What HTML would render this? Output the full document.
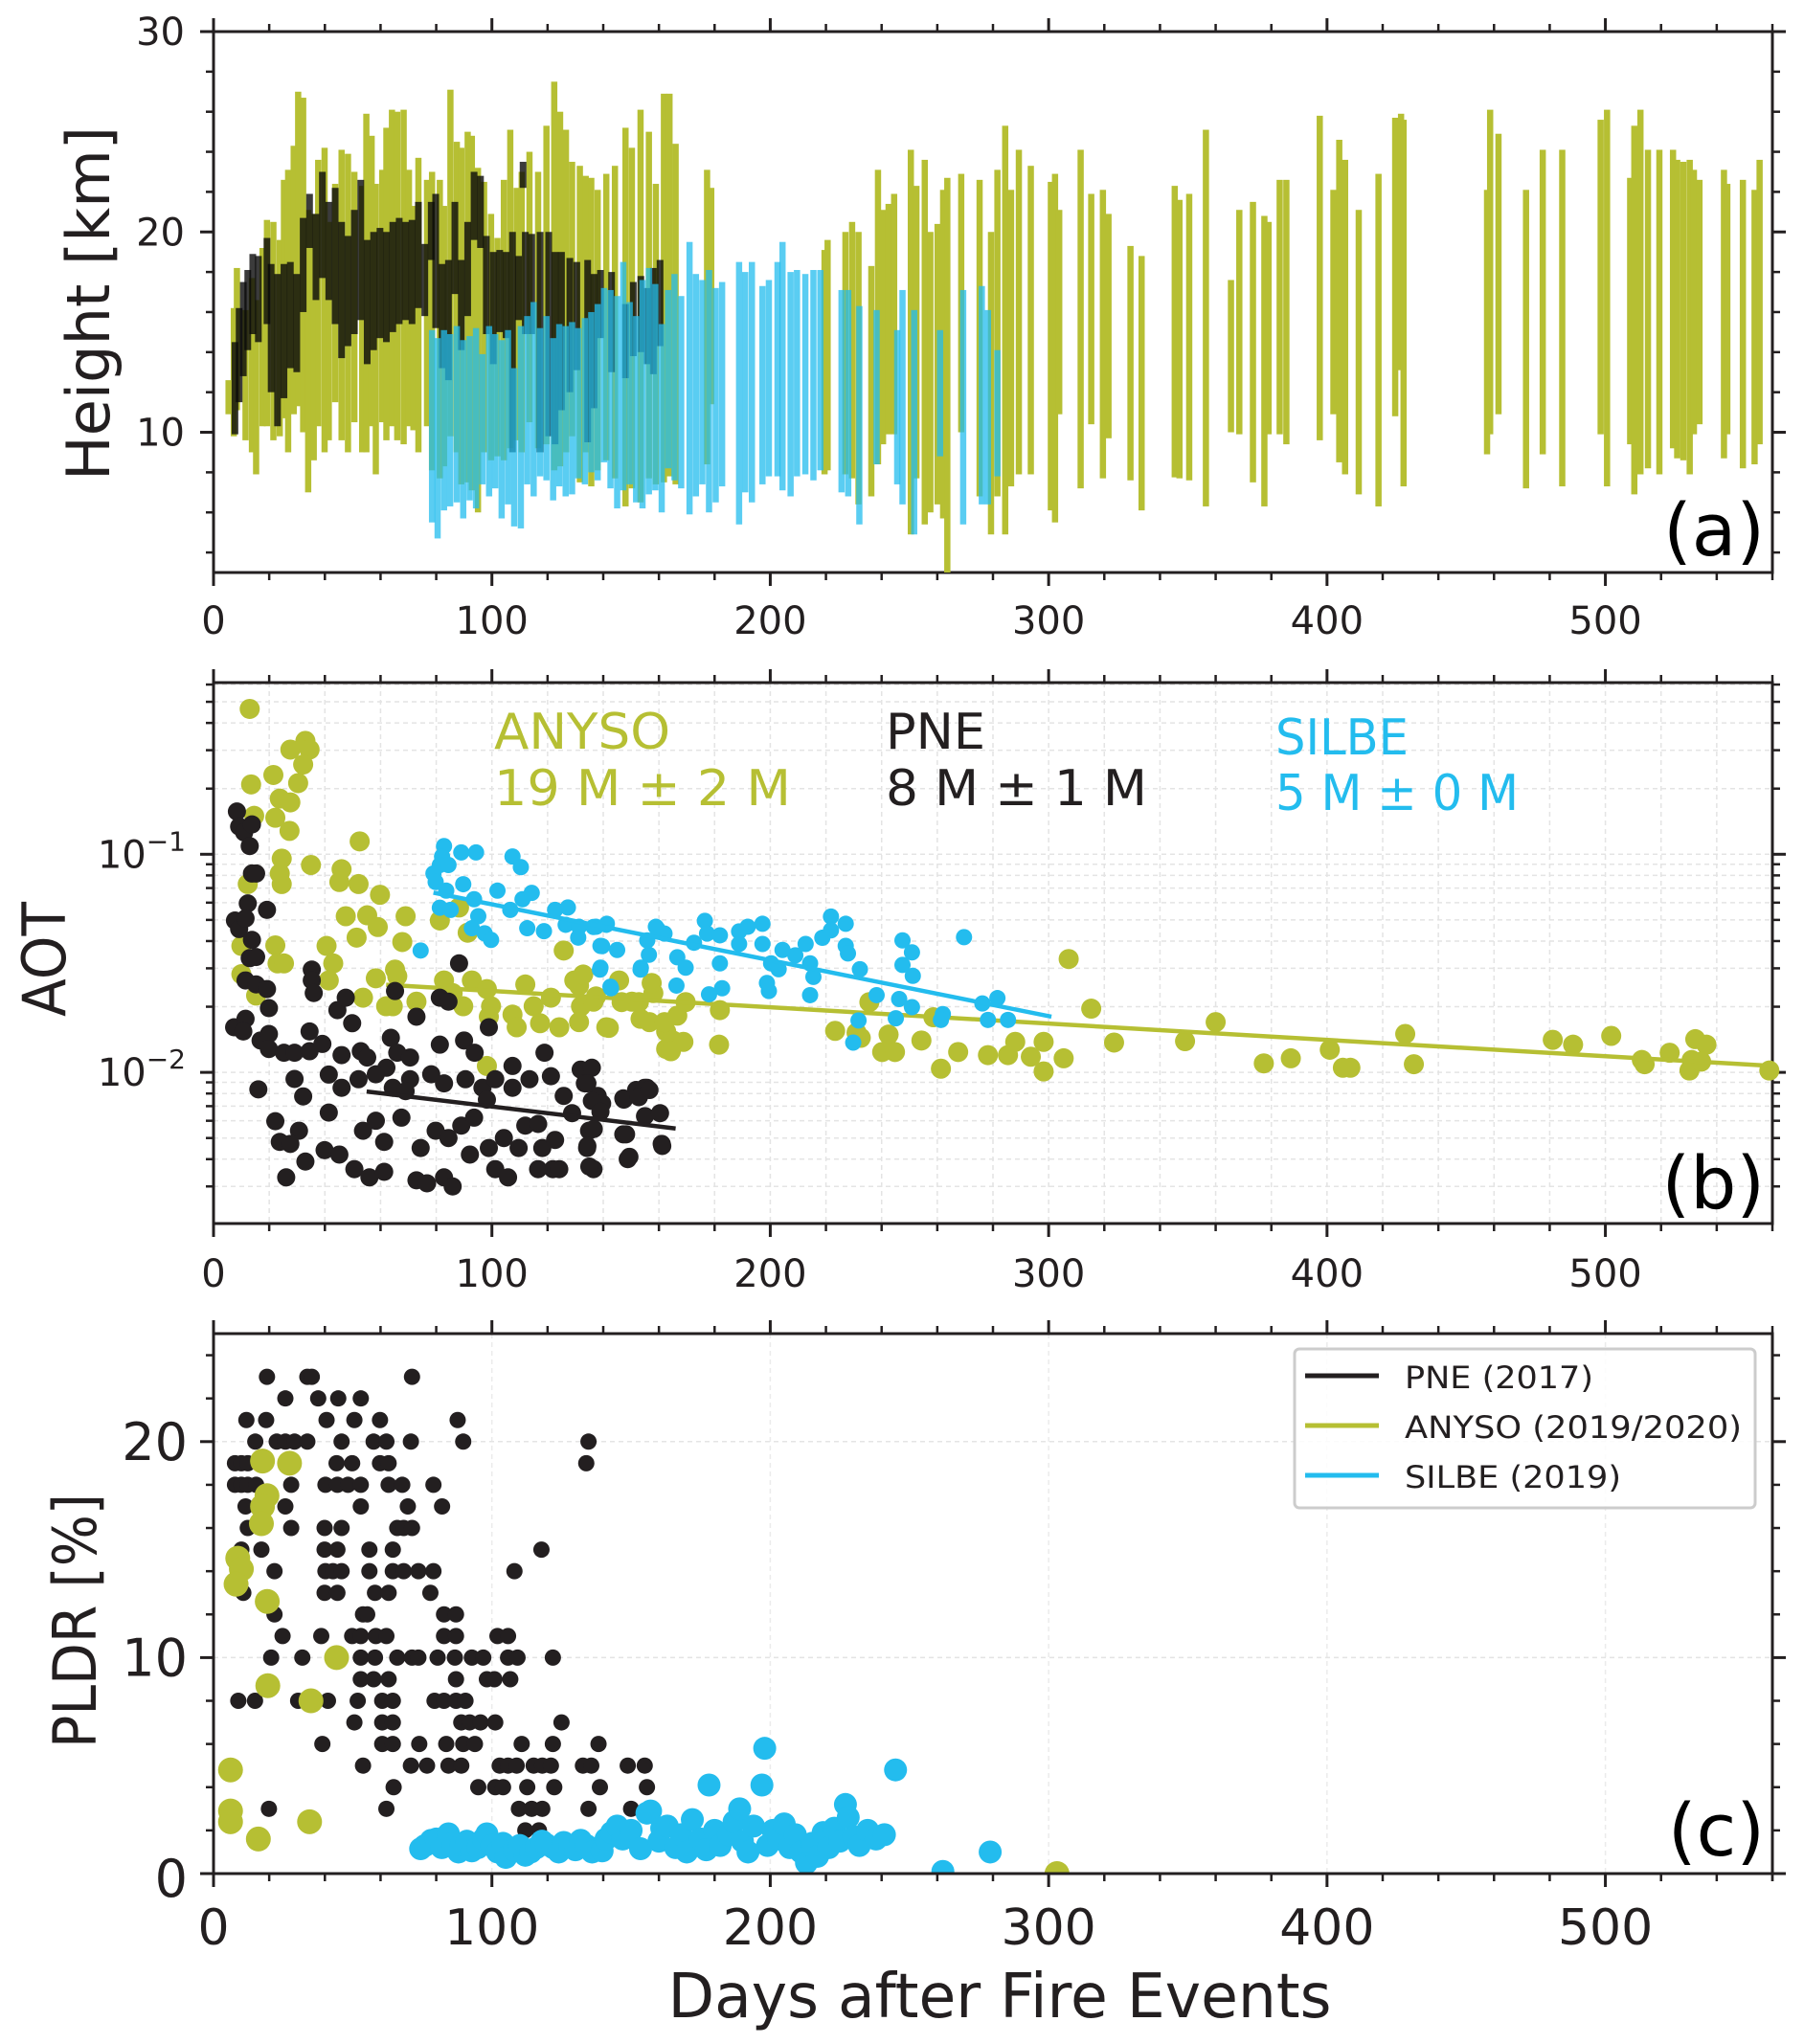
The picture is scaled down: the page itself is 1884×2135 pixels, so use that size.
<!DOCTYPE html>
<html><head><meta charset="utf-8"><style>
html,body{margin:0;padding:0;background:#fff;}
svg{display:block;font-family:"DejaVu Sans","Liberation Sans",sans-serif;}
</style></head><body>
<svg id="fig" width="1884" height="2135" viewBox="0 0 1884 2135" xmlns="http://www.w3.org/2000/svg"></svg>
<script>
// ---------- DATA ----------
// Panel (a): [day, lowKm, highKm]
const anysoLayers = [[5.4,10.9,12.6],[7.3,9.8,16.2],[8.4,11.1,18.2],[11.5,9.6,16.1],[13.8,9,17.7],[15.3,7.9,16.6],[17.6,10.3,19.2],[19.2,10.3,20.6],[21.5,9.6,20.5],[23.8,9.8,19.6],[25.3,10.7,22.6],[26.8,9,23.1],[28.8,10.9,24.3],[30.4,11.3,27],[32.2,10,26.7],[34,7,21.1],[36,8.6,20.9],[37.6,10.3,23.6],[39.9,9,24.2],[41.4,9.6,20.5],[43.7,11.5,22.4],[46,9.6,24.1],[48.3,9,23.9],[50.6,10.5,23],[53.4,9,22.3],[54.9,9,25.9],[56.8,10.3,24.8],[58.3,7.9,22.4],[60.6,10.5,23.1],[62.1,9.6,25.2],[64.1,10.3,26.1],[66,9.6,26],[68.3,9.4,26.1],[70.2,10.3,23.1],[71.8,10.1,21.3],[73.6,9,23.7],[76.7,10.3,22.6],[78.5,8.1,23],[81.3,7.7,22.6],[82.8,8.3,21.3],[85.1,9.8,27.1],[87.4,9,24.5],[89,7.4,24.2],[91.3,7.5,25],[92.8,7.1,24.8],[95,6,23.2],[97.2,9,22.5],[99.7,8.6,20.9],[102,8.8,19.7],[104.3,8.6,22.6],[106.6,9.2,25.1],[108.9,9.6,22.2],[110.7,9,23],[113.5,10.5,24],[116.6,9.2,23],[119.6,9.4,25.3],[122.4,8.1,27.5],[124.5,8.3,26],[126.6,9,25.1],[128.8,9.8,23.5],[131.6,7.5,23.3],[133.7,9,22.8],[135.7,7.3,22.7],[138,8.1,22.1],[141.1,8.6,22.9],[144.2,7.7,23.3],[148,6.3,25.2],[150.3,7.2,24.2],[153.4,6.5,26.1],[156.4,7.7,25],[158.9,7.4,22.4],[161.8,7.5,26.9],[163.8,7.8,26.9],[166,7.4,24.4],[177.3,8.4,23.1],[178.8,11.4,22.2],[219.5,7.9,19.1],[220.6,8.1,19.6],[227,7.9,20],[229.4,7.7,20.5],[231.7,6.4,20],[236.3,6.8,18.3],[238.7,8.4,23.1],[240.5,9.4,21.1],[242.5,9.9,21.4],[244.5,9.9,21.9],[250.5,4.9,24.1],[252.5,7.7,22.3],[255.5,5.4,23.6],[257.5,6,20],[260.1,6.4,20.4],[262.1,5.7,22.1],[263.6,3,22.7],[268.6,10,22.9],[275.2,6.8,22.6],[279.3,4.9,20],[281.6,6.8,23.1],[284.4,4.9,25.3],[286.5,7.3,22.1],[289.3,7.9,24.1],[293.6,7.9,23.3],[300.8,6.1,22.5],[302.3,5.5,22.9],[303.8,10.9,21.1],[311.5,7.2,24.1],[315.3,10.4,21.9],[319.5,7.7,22.1],[321.5,9.7,20.9],[329.4,7.6,19.3],[333.4,6.1,18.8],[345.3,7.75,22.3],[347,7.7,21.6],[350.5,7.6,21.9],[356.5,6.3,25.1],[365.5,10,17.6],[368.5,9.9,21.1],[373.4,7.5,21.5],[377.5,6.3,20.8],[379,9.9,20.5],[383,9.9,22.6],[385.4,9.4,22.6],[397.4,9.6,25.8],[402.3,10.9,22.1],[404.4,8.5,24.6],[406.5,7.9,23.6],[411.4,6.9,21.1],[418.5,6.3,22.9],[424.5,10.8,25.7],[426.6,13.1,25.9],[427.5,7.3,25.6],[457.5,8.9,22.1],[458.6,9.9,26.1],[461.6,10.9,24.9],[471.5,7.2,22.1],[477.5,8.9,24.1],[484.5,7.3,24.1],[498.3,9.9,25.6],[500.6,7.3,26.1],[508.9,9.4,22.7],[510.4,6.9,25.3],[512.6,7.9,26.1],[515.3,8.2,24.1],[519.4,7.9,24.1],[524.3,9.2,24.1],[525.8,8.7,23.6],[528,8.6,23.5],[530.3,7.9,23.6],[531.8,9.9,23.1],[533.8,10.4,22.6],[542.6,8.7,23.1],[543.8,9.9,22.4],[549.4,8.2,22.6],[553.6,8.4,22.1],[555.4,9.4,23.6]];
const pneLayers = [[7.7,9.9,14.5],[9.2,11.5,16.2],[10.7,12.8,17.5],[12.3,14.1,18.1],[14.1,14.9,18.9],[16.1,14.5,18.8],[19.2,15.4,19.7],[20.7,12,18.4],[23,10.3,17.9],[25.3,11.7,18.4],[27.6,13.2,18.5],[29.9,13,17.9],[32.2,16,20.7],[34.5,19.2,21.9],[36.8,16.6,20.9],[39.1,17.7,23],[41.4,16.6,21.5],[43.7,15.4,22.2],[46,13.7,20.5],[48.3,14.3,19.8],[50.6,14.9,21.1],[52.9,15.6,22.6],[55.2,13.4,19.6],[57.5,14.1,20],[59.8,14.7,20.2],[62.1,14.5,20],[64.4,15,20.5],[66.7,15.4,20.7],[69,15.6,20.5],[71.3,15.4,20.6],[73.6,16.2,21.5],[75.9,15.8,19.4],[78.2,18.6,21.5],[79.8,15.2,21.9],[82.1,13.2,18.4],[84.4,12.6,18.6],[86.7,16.9,21.5],[89,14.1,18.6],[91.3,15.8,20.5],[93.6,19.6,23],[95.9,19.2,22.8],[98,14.9,19.8],[100.5,13.4,19],[102.8,15,19.1],[105.1,14.7,19],[107.4,9,20],[109.6,15.6,18.8],[111.2,22.2,23.5],[112,14.9,20],[114.3,14.9,19.9],[117.3,9,20],[120.4,9.8,20],[122.7,9.4,19],[125,11.1,19],[128,12,18.7],[130.5,13.1,18.5],[134.4,9.5,18.6],[136.7,11.2,17.9],[139,14.7,18.1],[143,13,18],[148,12.7,16.4],[150.8,13.8,17.5],[153.5,14,17.8],[155.8,13.4,17.2],[158,12.9,18.2],[160.4,14.3,18.6]];
const silbeLayers = [[78.5,5.5,15.1],[80.5,4.7,14.7],[82.8,6.1,15.1],[85,6.3,14.9],[87.4,6.5,15.3],[89.7,5.7,14.6],[92,6.6,14.8],[94.3,6.2,15.2],[96.6,7.4,13.9],[99,6.8,15.3],[101.2,7.2,14.9],[103.5,5.7,14.6],[105.8,6.4,15.1],[108,5.3,13.2],[110.4,5.2,15.3],[112.7,7.4,15.8],[115,6.8,16.5],[117.3,7.8,15.2],[119.6,7.6,15.8],[122,6.6,14.7],[124.2,7.3,15.4],[126.5,6.8,15.3],[128.8,6.9,15.5],[131,7.7,15.2],[133.4,7.4,15.7],[135.7,8,16],[138,7.6,16.4],[140.3,8.5,17.2],[142.6,7.2,17.1],[145,6.2,16.8],[147.2,7.1,18.5],[149.5,7.4,16.5],[151.8,6.5,15.8],[154.1,6.2,17.6],[156.4,6.9,18.2],[158.7,7.1,17.4],[161,6,15.4],[163.3,8.2,17.1],[165.6,7.6,17.9],[168,7.2,16.8],[171,5.9,19.5],[173.3,6.8,17.9],[175.6,7.4,17.6],[178,6,18.1],[180.4,6.5,17.2],[182.7,7.3,17.5],[188.8,5.4,18.5],[191,7,18],[193.4,6.5,18.5],[197.2,7.4,17.3],[199.5,7.8,17.6],[202.6,7.8,18.5],[204.4,7.1,19.5],[207.3,6.8,18],[209.6,7.8,18.1],[212.6,7.9,17.9],[215.5,7.6,18.1],[218,8.1,18.1],[225.6,7,17.1],[228,6.8,17.1],[232,5.4,16.3],[238.2,8.4,16.1],[245.6,7.4,15.1],[247.5,6.4,17.1],[251.7,4.9,16.1],[261,8.8,15.1],[269.3,5.4,17.1],[276,6.4,17.3],[278.2,6.4,16.1],[281.6,7.8,14.1]];

// Panel (b): [day, AOT]
const anysoAOT = [[13,0.464],[13.5,0.209],[21.5,0.231],[27.6,0.302],[33,0.331],[34.5,0.302],[32.2,0.258],[30.4,0.212],[23.8,0.18],[27.6,0.173],[22.2,0.147],[27.3,0.128],[14.6,0.15],[24.5,0.0955],[23.8,0.0816],[24.5,0.073],[12.3,0.073],[35,0.0893],[46,0.0854],[45.2,0.0746],[52.5,0.1146],[52.1,0.073],[59.8,0.0652],[47.5,0.052],[55.2,0.0525],[59,0.0464],[51.4,0.0415],[69,0.052],[67.8,0.0396],[81.3,0.0497],[88.2,0.057],[91.3,0.0437],[125.8,0.0362],[22.2,0.0382],[10,0.038],[23,0.0316],[25.3,0.0316],[10,0.0282],[15.3,0.0225],[40.6,0.038],[43,0.0316],[41.4,0.0264],[58.3,0.027],[65.2,0.0296],[66,0.0276],[53.7,0.022],[62,0.0201],[64.4,0.0201],[72.9,0.0211],[82.8,0.0264],[85.9,0.0231],[89.7,0.0201],[92.8,0.0264],[98.2,0.0241],[99.7,0.0201],[98.9,0.018],[107.4,0.0184],[108.9,0.0161],[112,0.0253],[115,0.0201],[117.3,0.0168],[121.2,0.022],[124.2,0.0161],[129.6,0.0264],[132,0.0201],[136.5,0.0211],[141.1,0.0161],[145.7,0.0264],[150.3,0.0211],[153.4,0.0176],[158,0.0231],[162.6,0.0154],[162.6,0.0128],[98.2,0.0107],[131.3,0.025],[132.8,0.0281],[131.3,0.017],[142,0.016],[137.4,0.0223],[146.6,0.021],[152.8,0.021],[157.4,0.0257],[156.6,0.017],[162,0.017],[166.6,0.0182],[169.6,0.021],[165,0.014],[168.8,0.0138],[164.3,0.0125],[181.9,0.0193],[181.6,0.0134],[235.6,0.021],[223.3,0.0155],[231,0.0152],[232.5,0.0144],[242.5,0.0149],[240.2,0.0124],[244.8,0.0124],[254.3,0.014],[258.6,0.0179],[261.3,0.0104],[267.5,0.0124],[278.2,0.012],[285.4,0.012],[288,0.0138],[293.6,0.0118],[298.2,0.0138],[298.2,0.0101],[305.4,0.0116],[307.2,0.0331],[315.3,0.0196],[323.5,0.0137],[349,0.0139],[360,0.017],[377.3,0.011],[387,0.0116],[401,0.0127],[405.7,0.0105],[408.4,0.0105],[428.1,0.015],[431.2,0.0109],[481.1,0.0141],[488.4,0.0134],[502.1,0.0147],[513.1,0.0114],[514.1,0.0109],[523.1,0.0123],[532.3,0.0142],[536.3,0.0134],[531,0.0114],[530.2,0.0102],[534.4,0.0112],[558.9,0.0102]];
const silbeAOT = [[82.8,0.109],[82.1,0.0977],[81.3,0.0893],[84.4,0.0893],[79,0.0816],[79.8,0.0746],[83.6,0.0681],[89,0.102],[94.3,0.102],[89.7,0.0729],[93.6,0.0622],[81.3,0.0569],[85.2,0.0556],[95.1,0.052],[92.8,0.0458],[97.4,0.0434],[99.7,0.0405],[74.4,0.0362],[107.4,0.0977],[110.4,0.0873],[102,0.0681],[106.6,0.0556],[111,0.0622],[114.3,0.0665],[112.7,0.0458],[118.7,0.0444],[122.7,0.0556],[127.3,0.057],[126.5,0.0475],[131,0.0415],[136.5,0.0464],[141.1,0.0475],[139.6,0.0379],[138.8,0.0296],[142.6,0.0247],[153.4,0.0296],[156.4,0.0346],[159.5,0.0454],[131.3,0.0465],[137.4,0.0465],[141.3,0.048],[139,0.038],[145,0.0364],[139,0.0302],[142.8,0.0243],[153.5,0.0302],[158.9,0.0465],[155.8,0.0403],[162,0.0433],[166.6,0.0337],[169.6,0.0302],[166.3,0.025],[172.6,0.0393],[176.5,0.0495],[177.3,0.0433],[181.9,0.0425],[181.9,0.0316],[182.7,0.0243],[178,0.0228],[188.8,0.0443],[191.9,0.0465],[197.2,0.048],[188.8,0.0388],[197.2,0.0388],[200.3,0.0316],[203,0.0297],[198.8,0.0257],[199.5,0.0236],[204.4,0.0364],[209,0.0344],[212.7,0.0388],[214.3,0.0316],[215.5,0.0274],[214.3,0.0226],[218.7,0.0414],[221.8,0.0518],[221.8,0.0448],[227.1,0.048],[227.1,0.038],[227.9,0.0351],[232.2,0.0297],[247.5,0.0403],[250.9,0.0355],[247.5,0.0311],[251.2,0.0277],[238.2,0.0226],[246.3,0.0217],[250.9,0.0199],[245.1,0.0177],[231.7,0.0173],[229.8,0.0137],[262,0.0185],[261.3,0.0174],[269.6,0.0417],[276.2,0.0207],[281.6,0.0219],[278.2,0.0174],[285.4,0.0174]];
const pneAOT = [[8.4,0.157],[9.2,0.134],[11,0.126],[13.8,0.137],[13,0.109],[13.8,0.0816],[15.3,0.0816],[12.3,0.0595],[19.2,0.0556],[7.7,0.0497],[9.2,0.0454],[11.5,0.0508],[13.8,0.0405],[13,0.0334],[15.3,0.0338],[11.5,0.0264],[15.3,0.0253],[19.2,0.0241],[19.9,0.0197],[7.4,0.0161],[11.5,0.0176],[10.7,0.0154],[16.9,0.014],[19.9,0.015],[19.9,0.0128],[25.3,0.0123],[29.1,0.0123],[29.1,0.00933],[16.1,0.00836],[35.3,0.0296],[35.3,0.0264],[36,0.0231],[34.5,0.0154],[34.5,0.0125],[39.1,0.0135],[44.5,0.0193],[47.5,0.022],[49.8,0.0168],[46,0.012],[52.9,0.0125],[55.2,0.0117],[65.2,0.0236],[63.7,0.0144],[62.1,0.0105],[66,0.0123],[70.6,0.0117],[72.9,0.018],[81.3,0.022],[84.4,0.0211],[88.2,0.0316],[98.9,0.0161],[81.3,0.0134],[90,0.014],[93.8,0.0123],[107.4,0.0107],[118.9,0.0123],[131.9,0.0103],[41.4,0.00977],[46,0.0085],[52.1,0.0093],[58.3,0.0098],[64.4,0.0085],[70.6,0.0093],[78.2,0.0098],[82.8,0.0089],[90.5,0.0093],[96.6,0.0085],[101.2,0.0093],[107.4,0.0085],[113.5,0.0093],[121.2,0.0096],[125.8,0.0078],[133.4,0.0089],[138,0.0078],[147.2,0.0076],[151.8,0.0083],[155.7,0.0085],[41.4,0.00654],[22.2,0.00597],[32.2,0.00776],[30.7,0.0054],[23.8,0.0048],[27.6,0.0047],[33,0.0039],[26.1,0.0033],[39.9,0.0044],[45.2,0.0042],[50.6,0.0036],[56,0.0033],[61.3,0.0035],[53.7,0.0054],[58.3,0.006],[61.3,0.0048],[67.5,0.0062],[69,0.0082],[74.4,0.0045],[72.9,0.0032],[76.7,0.0031],[82.8,0.0033],[85.9,0.003],[79.8,0.0054],[84.4,0.005],[89,0.0057],[93.6,0.0062],[98.2,0.0075],[92.1,0.0042],[98.9,0.0045],[101.2,0.0036],[105.8,0.0033],[104.3,0.005],[109.6,0.0045],[112,0.0057],[116.6,0.0058],[118.1,0.0045],[122.7,0.0049],[121.9,0.0036],[124.2,0.0036],[116.6,0.0036],[128.8,0.0065],[134.9,0.0054],[134.2,0.0045],[136.5,0.0036],[139.6,0.0072],[147.2,0.0052],[148.8,0.004],[154.9,0.0085],[161,0.0047],[135.9,0.0105],[134.3,0.0089],[135.9,0.0074],[139,0.0066],[136.6,0.0055],[134.3,0.0046],[135,0.0037],[147.4,0.0075],[152.8,0.0077],[156.6,0.0083],[155,0.0063],[160.4,0.0065],[148.2,0.0052],[161.2,0.0046],[149.4,0.0041]];
// fitted decay lines: [startDay, startAOT, endDay, endAOT]
const anysoFit = [62, 0.0252, 560, 0.0107];
const silbeFit = [79, 0.0667, 301, 0.018];
const pneFit = [55, 0.00817, 166, 0.00553];

// Panel (c): [day, PLDR %]
const pnePLDR = [[19.2,23],[33.7,23],[35.3,23],[71.3,23],[25.8,22],[37.6,22],[44.8,22],[52.9,22],[11.8,21],[18.9,21],[40.6,21],[50.6,21],[59.8,21],[87.7,21],[15,20],[22.7,20],[25.8,20],[29.1,20],[33.7,20],[46,20],[57.5,20],[62.1,20],[70.9,20],[89.7,20],[134.7,20],[7.7,19],[10,19],[12.3,19],[44.2,19],[49.8,19],[59.8,19],[62.9,19],[133.9,19],[7.7,18],[10,18],[12.3,18],[15.3,18],[27.9,18],[40.2,18],[44.5,18],[48.3,18],[52.9,18],[62.9,18],[67.8,18],[79,18],[11.5,17],[25.8,17],[52.9,17],[69.8,17],[82.1,17],[12.3,16],[27.9,16],[39.9,16],[46,16],[66,16],[68.3,16],[71.3,16],[10,15],[17.2,15],[39.9,15],[44.5,15],[56,15],[64.4,15],[117.8,15],[21.9,14],[40.2,14],[42.9,14],[46,14],[56,14],[64.4,14],[68.3,14],[73.6,14],[79,14],[108.1,14],[10.7,13],[39.9,13],[44.5,13],[58,13],[62.9,13],[77.9,13],[21.9,12],[53.7,12],[55.2,12],[82.8,12],[87.1,12],[24.8,11],[38.7,11],[49.8,11],[52.9,11],[58.3,11],[62.1,11],[82.8,11],[87.1,11],[102,11],[105.8,11],[20.7,10],[31.9,10],[52.9,10],[58,10],[66,10],[71.3,10],[73.6,10],[80.5,10],[86.7,10],[92.8,10],[96.9,10],[105.8,10],[109.2,10],[121.9,10],[52.9,9],[57.5,9],[62.9,9],[87.1,9],[98.2,9],[100.9,9],[106.6,9],[8.9,8],[14.9,8],[30.4,8],[41.1,8],[51.8,8],[60.6,8],[64.4,8],[79.4,8],[82.8,8],[87.1,8],[90.5,8],[50.6,7],[60.6,7],[64.4,7],[89,7],[92,7],[95.9,7],[101.2,7],[125,7],[39.1,6],[60.6,6],[64.4,6],[73.9,6],[83.6,6],[89.7,6],[93.9,6],[110.7,6],[121.9,6],[138.3,6],[53.7,5],[70.9,5],[76.7,5],[84.4,5],[89,5],[102.8,5],[105.8,5],[108.9,5],[115,5],[118.1,5],[121.2,5],[132.7,5],[135.7,5],[148.8,5],[154.9,5],[64.7,4],[95.1,4],[101.2,4],[104,4],[112.7,4],[122.4,4],[138.8,4],[155.7,4],[19.9,3],[62.1,3],[109.7,3],[114.3,3],[118.1,3],[134.7,3],[150,3],[112,2],[116.9,2]];
const anysoPLDR = [[17.6,19.1],[27.3,19],[19.2,17.5],[17.6,17],[17.2,16.2],[8.7,14.6],[10,14.1],[8.1,13.4],[19.3,12.6],[44.2,10],[19.5,8.7],[35,8],[6.1,4.8],[6.1,2.9],[6.1,2.4],[34.5,2.4],[16.1,1.6],[303,0]];
const silbePLDR = [[74.4,1.15],[76,1.3],[78.2,1.54],[80,1.6],[82,1.2],[84.4,1.84],[86,1.4],[88,1.0],[89,1.34],[91,1.5],[92.8,1.05],[95,1.2],[97,1.6],[98.2,1.84],[100,1.3],[102,1.0],[104,1.4],[105,0.75],[108,1.1],[110,1.3],[112,0.85],[114,1.0],[116,1.2],[118,1.5],[119.6,1.34],[122,1.2],[124,1.0],[125.8,1.44],[128,1.3],[130,1.1],[131.9,1.54],[134,1.3],[136,1.0],[139.6,1.05],[141,1.6],[143,1.9],[145,2.2],[147,1.6],[150,2.0],[153.4,1.15],[155.7,2.8],[157,2.9],[160,1.5],[161,2.1],[163,2.2],[166,1.2],[168,1.8],[170,1.0],[172,2.5],[175,1.6],[177,1.1],[178,4.1],[180,2.0],[182,1.3],[185,1.8],[187,2.4],[189,3.0],[190,1.5],[192,1.0],[194,2.2],[197,4.1],[198,5.8],[199,1.3],[201,2.0],[203,1.6],[205,2.3],[207,1.2],[209,1.8],[211,1.0],[213,0.5],[215,1.4],[217,0.8],[219,1.9],[221,1.2],[223,2.1],[225,1.5],[227,3.2],[228,2.6],[230,1.7],[232,1.3],[235,2.0],[238,1.6],[241,1.8],[245,4.8],[262,0.1],[279,1.0]];

const xTickLabels = ["0","100","200","300","400","500"];
const xTickValues = [0,100,200,300,400,500];
const aTickValues = [10,20,30];
const cTickValues = [0,10,20];
const bTickExps = [-2,-1];

// ---------- LAYOUT ----------
const NS = "http://www.w3.org/2000/svg";
const svg = document.getElementById("fig");
const X0 = 223, X1 = 1851, XMAX = 560;
const C_OLIVE = "#b6bf33", C_BLUE = "#23bcee", C_BLACK = "#231f20";
const P = {
  a:{top:33,bot:598,min:3,max:30,log:false},
  b:{top:713,bot:1278,min:-2.693,max:-0.213,log:true},
  c:{top:1393,bot:1957,min:0,max:25,log:false}
};
function xs(d){ return X0 + (d/XMAX)*(X1-X0); }
function ys(p,v){ const t = p.log ? Math.log10(v) : v; return p.bot - (t-p.min)/(p.max-p.min)*(p.bot-p.top); }
function el(tag, attrs, parent){ const e = document.createElementNS(NS, tag); for (const k in attrs) e.setAttribute(k, attrs[k]); (parent||svg).appendChild(e); return e; }
function grp(name){ const g = el("g", {});   return g; }

function gridLines(p, name, yvals){
  const g = grp(name);
  const xv = []; for (let d=20; d<XMAX; d+=20) xv.push(d);
  if (p===P.b){
    xv.forEach(d=>el("line",{x1:xs(d),x2:xs(d),y1:p.top,y2:p.bot,stroke:"#e4e4e4","stroke-width":1.5,"stroke-dasharray":"5,4"},g));
  } else {
    [100,200,300,400,500].forEach(d=>el("line",{x1:xs(d),x2:xs(d),y1:p.top,y2:p.bot,stroke:"#ebebeb","stroke-width":1.5,"stroke-dasharray":"5,4"},g));
  }
  yvals.forEach(v=>{ const y=ys(p,v); el("line",{x1:X0,x2:X1,y1:y,y2:y,stroke:"#e4e4e4","stroke-width":1.5,"stroke-dasharray":"5,4"},g); });
}
const bMinor = []; [0.001,0.01,0.1].forEach(b=>{ for(let k=1;k<10;k++){ const v=b*k; if(Math.log10(v)>P.b.min && Math.log10(v)<P.b.max) bMinor.push(v);} });
gridLines(P.b, "aot-grid", bMinor);
gridLines(P.c, "pldr-grid", [10,20]);

function axes(p, name, yMajor, yMinor, labSize, labBase, yLabFn){
  const g = grp(name);
  el("rect",{x:X0,y:p.top,width:X1-X0,height:p.bot-p.top,fill:"none",stroke:C_BLACK,"stroke-width":3},g);
  for (let d=0; d<=XMAX; d+=20){
    const maj = d%100===0; const L = maj?14:8; const x=xs(d);
    el("line",{x1:x,x2:x,y1:p.bot,y2:p.bot+L,stroke:C_BLACK,"stroke-width":maj?3:2.5},g);
    el("line",{x1:x,x2:x,y1:p.top,y2:p.top-L,stroke:C_BLACK,"stroke-width":maj?3:2.5},g);
  }
  yMinor.forEach(v=>{ const y=ys(p,v);
    el("line",{x1:X0,x2:X0-8,y1:y,y2:y,stroke:C_BLACK,"stroke-width":2.5},g);
    el("line",{x1:X1,x2:X1+8,y1:y,y2:y,stroke:C_BLACK,"stroke-width":2.5},g); });
  yMajor.forEach(v=>{ const y=ys(p,v);
    el("line",{x1:X0,x2:X0-14,y1:y,y2:y,stroke:C_BLACK,"stroke-width":3},g);
    el("line",{x1:X1,x2:X1+14,y1:y,y2:y,stroke:C_BLACK,"stroke-width":3},g); });
  xTickValues.forEach((d,i)=>{ const t=el("text",{x:xs(d),y:labBase,"font-size":labSize,"text-anchor":"middle",fill:C_BLACK},g); t.textContent=xTickLabels[i];
    
     });
  yMajor.forEach(v=>yLabFn(g,v));
}
const aMinor=[]; for(let k=4;k<30;k+=2) if(k%10) aMinor.push(k);
axes(P.a,"height-axes",aTickValues,aMinor,40,662,(g,v)=>{ const t=el("text",{x:193,y:ys(P.a,v)+14,"font-size":40,"text-anchor":"end",fill:C_BLACK},g); t.textContent=String(v);
  
   });
axes(P.b,"aot-axes",bTickExps.map(e=>Math.pow(10,e)),bMinor,40,1344,(g,v)=>{ const e=Math.round(Math.log10(v)); const y=ys(P.b,v)+14;
  const t=el("text",{x:194,y:y,"font-size":40,"text-anchor":"end",fill:C_BLACK},g);
  
  
  const s1=el("tspan",{},t); s1.textContent="10";
  const s2=el("tspan",{dy:-18,"font-size":28},t); s2.textContent="\u2212"+Math.abs(e); });
const cMinor=[]; for(let k=2;k<25;k+=2) if(k%10) cMinor.push(k);
axes(P.c,"pldr-axes",cTickValues,cMinor,52,2031,(g,v)=>{ const t=el("text",{x:196,y:ys(P.c,v)+(v===0?24:19),"font-size":54,"text-anchor":"end",fill:C_BLACK},g); t.textContent=String(v);
  
   });

// ---------- panel a bars ----------
function bars(arr, color, op, w, name){
  const g = grp(name);
  arr.forEach(r=>{ const y1=ys(P.a,r[2]), y2=ys(P.a,r[1]);
    const b=el("rect",{x:xs(r[0])-w/2,y:y1,width:w,height:y2-y1,fill:color,"fill-opacity":op},g);
    
     });
}
bars(anysoLayers, C_OLIVE, 1, 6.5, "anyso-layers");
bars(pneLayers, "#0a0a0a", 0.8, 7, "pne-layers");
bars(silbeLayers, C_BLUE, 0.75, 6.5, "silbe-layers");

// ---------- panel b ----------
function dots(p, arr, color, r, name){
  const g = grp(name);
  arr.forEach(d=>{ const c=el("circle",{cx:xs(d[0]),cy:ys(p,d[1]),r:r,fill:color},g);
    
     });
}
function fit(f, color, name){
  const l=el("line",{x1:xs(f[0]),y1:ys(P.b,f[1]),x2:xs(f[2]),y2:ys(P.b,f[3]),stroke:color,"stroke-width":4.5});
  
  
}
dots(P.b, anysoAOT, C_OLIVE, 10.5, "anyso-aot-points");
fit(anysoFit, C_OLIVE, "anyso-fit-line");
dots(P.b, silbeAOT, C_BLUE, 8.5, "silbe-aot-points");
fit(silbeFit, C_BLUE, "silbe-fit-line");
dots(P.b, pneAOT, C_BLACK, 9.5, "pne-aot-points");
fit(pneFit, C_BLACK, "pne-fit-line");

// ---------- panel c ----------
dots(P.c, pnePLDR, C_BLACK, 8.5, "pne-pldr-points");
dots(P.c, anysoPLDR, C_OLIVE, 13, "anyso-pldr-points");
dots(P.c, silbePLDR, C_BLUE, 12, "silbe-pldr-points");
const mk = el("rect",{x:X0+2,y:P.c.bot+1.5,width:X1-X0-4,height:12,fill:"#fff"});


el("line",{x1:X0,x2:X1,y1:P.c.bot,y2:P.c.bot,stroke:C_BLACK,"stroke-width":3});
for (let d=0; d<=XMAX; d+=20){ const maj=d%100===0; el("line",{x1:xs(d),x2:xs(d),y1:P.c.bot,y2:P.c.bot+(maj?14:8),stroke:C_BLACK,"stroke-width":maj?3:2.5}); }

// ---------- text ----------
function txt(s, attrs, name){ const t=el("text",attrs); t.textContent=s;   return t; }
txt("Height [km]",{x:0,y:0,"font-size":62,fill:C_BLACK,"text-anchor":"middle",textLength:370,lengthAdjust:"spacingAndGlyphs",transform:"translate(114,317) rotate(-90)"},"y-axis-title-height");
txt("AOT",{x:0,y:0,"font-size":62,fill:C_BLACK,"text-anchor":"middle",textLength:120,lengthAdjust:"spacingAndGlyphs",transform:"translate(68,1002) rotate(-90)"},"y-axis-title-aot");
txt("PLDR [%]",{x:0,y:0,"font-size":62,fill:C_BLACK,"text-anchor":"middle",textLength:266,lengthAdjust:"spacingAndGlyphs",transform:"translate(100,1693) rotate(-90)"},"y-axis-title-pldr");
txt("Days after Fire Events",{x:1044,y:2107,"font-size":64,fill:C_BLACK,"text-anchor":"middle",textLength:693,lengthAdjust:"spacingAndGlyphs"},"x-axis-title");
txt("(a)",{x:1843,y:580,"font-size":76,fill:"#000","text-anchor":"end"},"panel-label-a");
txt("(b)",{x:1843,y:1262,"font-size":76,fill:"#000","text-anchor":"end"},"panel-label-b");
txt("(c)",{x:1843,y:1938,"font-size":76,fill:"#000","text-anchor":"end"},"panel-label-c");
txt("ANYSO",{x:516,y:782,"font-size":52,fill:C_OLIVE,textLength:184,lengthAdjust:"spacingAndGlyphs"},"anyso-annotation-name");
txt("19 M \u00b1 2 M",{x:516,y:841,"font-size":52,fill:C_OLIVE,textLength:310,lengthAdjust:"spacingAndGlyphs"},"anyso-annotation-mass");
txt("PNE",{x:925,y:782,"font-size":52,fill:C_BLACK,textLength:104,lengthAdjust:"spacingAndGlyphs"},"pne-annotation-name");
txt("8 M \u00b1 1 M",{x:925,y:841,"font-size":52,fill:C_BLACK,textLength:273,lengthAdjust:"spacingAndGlyphs"},"pne-annotation-mass");
txt("SILBE",{x:1332,y:788,"font-size":52,fill:C_BLUE,textLength:139,lengthAdjust:"spacingAndGlyphs"},"silbe-annotation-name");
txt("5 M \u00b1 0 M",{x:1332,y:846,"font-size":52,fill:C_BLUE,textLength:254,lengthAdjust:"spacingAndGlyphs"},"silbe-annotation-mass");

// legend
const lg = grp("legend");
el("rect",{x:1352,y:1409,width:481,height:166,rx:5,fill:"#fff","fill-opacity":0.85,stroke:"#cccccc","stroke-width":3},lg);
const legNames = ["PNE (2017)","ANYSO (2019/2020)","SILBE (2019)"];
const legColors = [C_BLACK, C_OLIVE, C_BLUE];
const legWidths = [197,352,226];
legNames.forEach((n,i)=>{ const y=1437+i*52;
  const ln=el("line",{x1:1363,x2:1440,y1:y,y2:y,stroke:legColors[i],"stroke-width":5},lg);
  
  
  const t=el("text",{x:1467,y:y+13,"font-size":32,fill:C_BLACK,textLength:legWidths[i],lengthAdjust:"spacingAndGlyphs"},lg); t.textContent=n;
  
  
});
</script>
</body></html>
